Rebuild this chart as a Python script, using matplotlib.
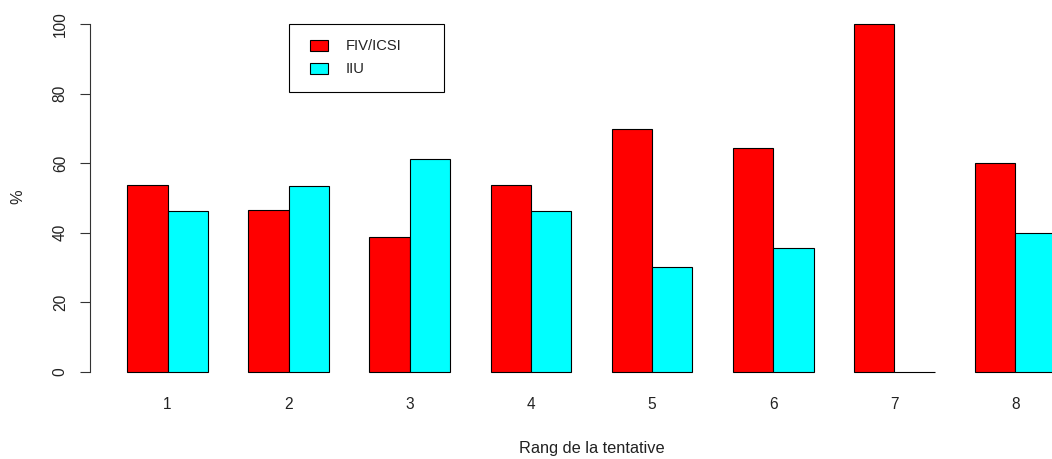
import matplotlib
matplotlib.use("Agg")
import matplotlib.pyplot as plt
from matplotlib.patches import Rectangle, Patch

categories = ["1", "2", "3", "4", "5", "6", "7", "8"]
fiv_icsi = [53.85, 46.67, 38.89, 53.85, 69.70, 64.29, 100.0, 60.0]
iiu = [46.15, 53.33, 61.11, 46.15, 30.30, 35.71, 0.0, 40.0]
series_names = ["FIV/ICSI", "IIU"]
colors = ["#FF0000", "#00FFFF"]

plt.rcParams['font.family'] = ['Liberation Sans', 'DejaVu Sans']
FS_LAB = 11.8
FS_TICK = 11.2
FS_LEG = 10.6
W, H = 1052, 459
fig = plt.figure(figsize=(W / 100, H / 100), dpi=100)
ax = fig.add_axes([90 / W, (H - 386) / H, 1003 / W, 376 / H])

n = len(categories)
left_red = [1 + 3 * i for i in range(n)]
left_cyan = [2 + 3 * i for i in range(n)]
centers = [2 + 3 * i for i in range(n)]
ax.bar(left_red, fiv_icsi, width=1, align='edge', color=colors[0],
       edgecolor='black', linewidth=0.8)
ax.bar(left_cyan, iiu, width=1, align='edge', color=colors[1],
       edgecolor='black', linewidth=0.8)

ax.set_xlim(0.08, 24.92)
ax.set_ylim(-4, 104)
for s in ['top', 'right', 'bottom']:
    ax.spines[s].set_visible(False)
ax.spines['left'].set_bounds(0, 100)
ax.spines['left'].set_color('#333333')
ax.spines['left'].set_linewidth(0.8)
ax.spines['left'].set_position(('data', 0.08))

ax.set_yticks([0, 20, 40, 60, 80, 100])
ax.set_yticklabels(["0", "20", "40", "60", "80", "100"], rotation=90,
                   va='center', fontsize=FS_TICK, color='#222222')
ax.tick_params(axis='y', length=7, width=0.8, color='#333333', pad=9)
ax.set_xticks(centers)
ax.set_xticklabels(categories, fontsize=FS_TICK, color='#222222')
ax.tick_params(axis='x', length=0, pad=8)

fig.text(592 / W, 1 - 448.5 / H, "Rang de la tentative", ha='center', va='center',
         fontsize=FS_LAB, color='#222222')
fig.text(18 / W, 1 - 197 / H, "%", ha='center', va='center', rotation=90,
         fontsize=FS_LAB, color='#222222')

# legend frame
fig.patches.append(Rectangle((289 / W, 1 - 92 / H), 155 / W, 68 / H,
                             transform=fig.transFigure, fill=False,
                             edgecolor='black', linewidth=0.8))
handles = [Patch(facecolor=c, edgecolor='black', linewidth=0.8) for c in colors]
leg = fig.legend(handles, series_names, loc='upper left',
                 bbox_to_anchor=(310 / W, 1 - 39.5 / H), frameon=False,
                 fontsize=FS_LEG, handlelength=1.2, handleheight=0.75,
                 handletextpad=1.2, labelspacing=0.6, borderpad=0,
                 borderaxespad=0)
for t in leg.get_texts():
    t.set_color('#222222')

fig.savefig("out.png", dpi=100)
